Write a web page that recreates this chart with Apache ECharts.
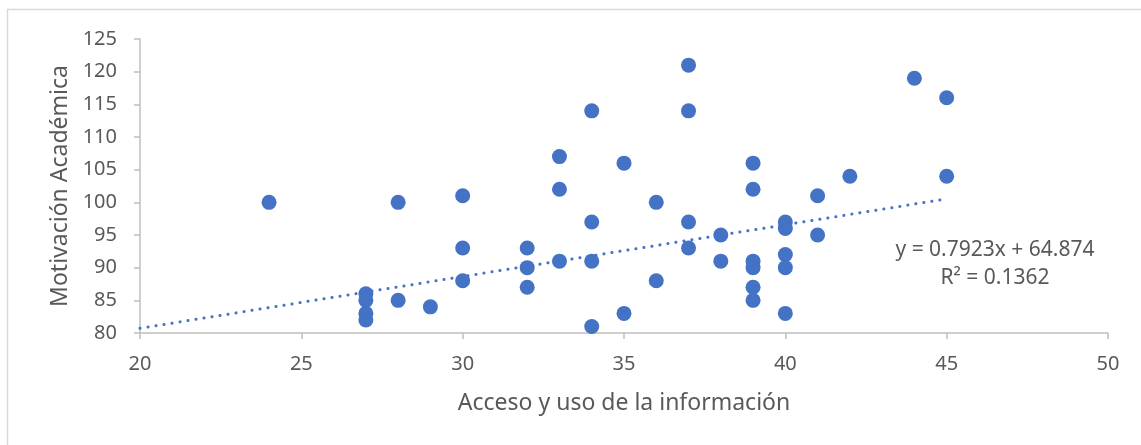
<!DOCTYPE html>
<html>
<head>
<meta charset="utf-8">
<script src="https://cdn.jsdelivr.net/npm/echarts@6/dist/echarts.min.js"></script>
<style>
html,body{margin:0;padding:0;background:#fff;}
#chart{width:1141px;height:445px;}
</style>
</head>
<body>
<div id="chart"></div>
<script>
// Data: Acceso y uso de la información (x) vs Motivación Académica (y)
const accesoX = [24, 27, 27, 27, 27, 28, 28, 29, 30, 30, 30, 32, 32, 32, 33, 33, 33, 34, 34, 34, 34, 35, 35, 36, 36, 37, 37, 37, 37, 38, 38, 39, 39, 39, 39, 39, 39, 40, 40, 40, 40, 40, 41, 41, 42, 44, 45, 45];
const motivacionY = [100, 86, 85, 83, 82, 100, 85, 84, 101, 93, 88, 93, 90, 87, 107, 102, 91, 114, 97, 91, 81, 106, 83, 100, 88, 121, 114, 97, 93, 95, 91, 106, 102, 91, 90, 87, 85, 97, 96, 92, 90, 83, 101, 95, 104, 119, 116, 104];
const trendSlope = 0.7923;
const trendIntercept = 64.874;
const trendRangeX = [20, 45];
const equationLines = ['y = 0.7923x + 64.874', 'R² = 0.1362'];
const xTitle = 'Acceso y uso de la información';
const yTitle = 'Motivación Académica';

const points = accesoX.map((x, i) => [x, motivacionY[i]]);
const trendPoints = trendRangeX.map(x => [x, trendSlope * x + trendIntercept]);

const chart = echarts.init(document.getElementById('chart'), null, {renderer: 'canvas'});
const FONT = '"Noto Sans", sans-serif';
const AX = '#bfbfbf';
const TXT = '#595959';
chart.setOption({
  animation: false,
  backgroundColor: '#fff',
  grid: {left: 140, top: 39, width: 968, height: 294, containLabel: false},
  xAxis: {
    type: 'value', min: 20, max: 50, interval: 5,
    name: xTitle, nameLocation: 'middle', nameGap: 59,
    nameTextStyle: {color: TXT, fontSize: 23, fontFamily: FONT},
    axisLine: {show: true, lineStyle: {color: AX, width: 1.5}},
    axisTick: {show: true, length: 6, lineStyle: {color: AX, width: 1.5}},
    axisLabel: {color: TXT, fontSize: 20, fontFamily: FONT, margin: 21},
    splitLine: {show: false}
  },
  yAxis: {
    type: 'value', min: 80, max: 125, interval: 5,
    name: yTitle, nameLocation: 'middle', nameGap: 66, nameRotate: 90,
    nameTextStyle: {color: TXT, fontSize: 23, fontFamily: FONT},
    axisLine: {show: true, lineStyle: {color: AX, width: 1.5}},
    axisTick: {show: true, length: 6, lineStyle: {color: AX, width: 1.5}},
    axisLabel: {color: TXT, fontSize: 20, fontFamily: FONT, margin: 23},
    splitLine: {show: false}
  },
  series: [
    {
      type: 'line', data: trendPoints, symbol: 'none', z: 1,
      lineStyle: {color: '#4472C4', width: 3, type: [0.1, 8], cap: 'round'}
    },
    {
      type: 'scatter', data: points, symbol: 'circle', symbolSize: 15, z: 2,
      itemStyle: {color: '#4472C4', opacity: 1}
    }
  ],
  graphic: [
    {type: 'rect', shape: {x: 7.5, y: 9.5, width: 1200, height: 500},
     style: {fill: 'none', stroke: '#d9d9d9', lineWidth: 1.5}, silent: true, z: -1},
    {type: 'text', x: 995, y: 250,
     style: {text: equationLines[0], fill: TXT, font: '21px ' + FONT, textAlign: 'center', textVerticalAlign: 'middle'}},
    {type: 'text', x: 995, y: 278,
     style: {text: equationLines[1], fill: TXT, font: '21px ' + FONT, textAlign: 'center', textVerticalAlign: 'middle'}}
  ]
});
</script>
</body>
</html>
